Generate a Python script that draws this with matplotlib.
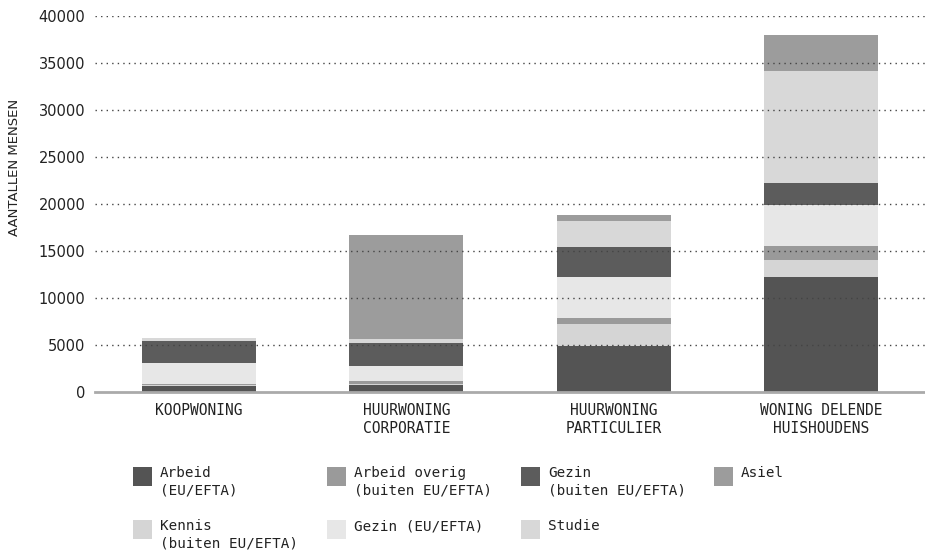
import matplotlib
matplotlib.use("Agg")
import matplotlib.pyplot as plt
from matplotlib.patches import Rectangle
import numpy as np

categories = ["KOOPWONING", "HUURWONING\nCORPORATIE", "HUURWONING\nPARTICULIER", "WONING DELENDE\nHUISHOUDENS"]

# stacking order (bottom -> top)
series_names = ["Arbeid\n(EU/EFTA)", "Kennis\n(buiten EU/EFTA)", "Arbeid overig\n(buiten EU/EFTA)",
                "Gezin (EU/EFTA)", "Gezin\n(buiten EU/EFTA)", "Studie", "Asiel"]
arbeid_eu      = [600, 700, 4930, 12200]
kennis         = [150, 150, 2300, 1840]
arbeid_overig  = [150, 300, 600, 1520]
gezin_eu       = [2150, 1600, 4360, 4330]
gezin_buiten   = [2400, 2500, 3260, 2300]
studie         = [250, 350, 2730, 11980]
asiel          = [30, 11100, 640, 3800]
series_values = [arbeid_eu, kennis, arbeid_overig, gezin_eu, gezin_buiten, studie, asiel]
colors = ["#545454", "#d5d5d5", "#9a9a9a", "#e7e7e7", "#5c5c5c", "#d8d8d8", "#9c9c9c"]

yticks = [0, 5000, 10000, 15000, 20000, 25000, 30000, 35000, 40000]

W, H = 925, 551
fig = plt.figure(figsize=(W / 100, H / 100), dpi=100)
ax = fig.add_axes([95 / W, 1 - 392 / H, 1 - 95 / W, (392 - 16) / H])

x = np.arange(len(categories))
bottom = np.zeros(len(categories))
for vals, col in zip(series_values, colors):
    ax.bar(x, vals, width=0.55, bottom=bottom, color=col, zorder=1)
    bottom += np.array(vals)

ax.set_xlim(-0.5, 3.5)
ax.set_ylim(0, 40000)
ax.set_yticks(yticks)
ax.set_yticklabels([str(t) for t in yticks], fontsize=10.5, color="#222222", family="DejaVu Sans")
ax.set_xticks(x)
ax.set_xticklabels(categories, fontsize=10.5, color="#222222", family="DejaVu Sans Mono", linespacing=1.25)
ax.tick_params(axis="both", length=0)
ax.tick_params(axis="y", pad=7)
ax.tick_params(axis="x", pad=8)
for s in ["top", "right", "left"]:
    ax.spines[s].set_visible(False)
ax.spines["bottom"].set_color("#aaaaaa")
ax.spines["bottom"].set_linewidth(2)
ax.spines["bottom"].set_zorder(3)
for t in yticks[1:]:
    ax.axhline(t, color="#444444", linestyle=(0, (1, 3)), linewidth=1, zorder=2)

fig.text(15 / W, 1 - 167 / H, "AANTALLEN MENSEN", rotation=90, ha="center", va="center",
         fontsize=9.5, color="#222222", family="DejaVu Sans")

# legend (column-major, 4 columns)
col_x = [133, 327, 521, 714]
row_y = [467, 520]
for i, (name, col) in enumerate(zip(series_names, colors)):
    c, r = i // 2, i % 2
    px, py = col_x[c], row_y[r]
    fig.add_artist(Rectangle((px / W, 1 - (py + 19) / H), 19 / W, 19 / H,
                             transform=fig.transFigure, facecolor=col, edgecolor="none"))
    fig.text((px + 27) / W, 1 - (py - 1) / H, name, ha="left", va="top", fontsize=10.3,
             color="#222222", family="DejaVu Sans Mono", linespacing=1.3)

fig.savefig("out.png", dpi=100, facecolor="white")
